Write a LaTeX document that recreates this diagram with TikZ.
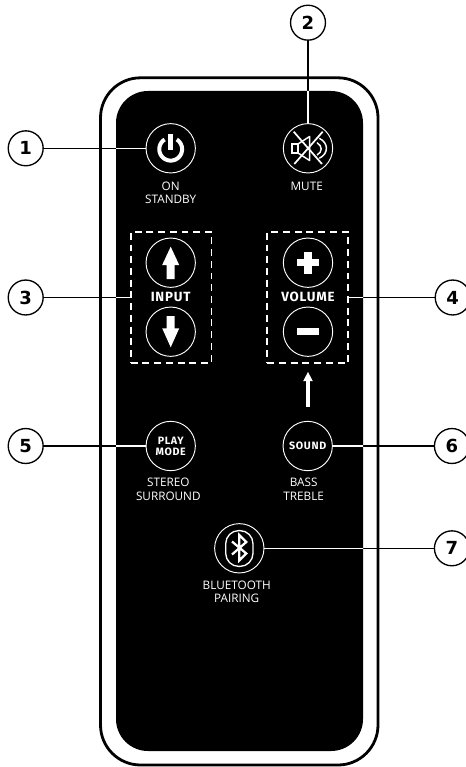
\documentclass[tikz,border=0pt]{standalone}
\usepackage{fontspec}
\setmainfont{Open Sans}
\newfontfamily\dinfont[LetterSpace=6]{Fira Sans}
\newfontfamily\numfont{DejaVu Sans}
\usetikzlibrary{arrows.meta}
\tikzset{
  btn/.style={circle,draw=white,line width=0.7pt,minimum size=37pt,inner sep=0pt,outer sep=0pt,text=white},
  numcirc/.style={circle,draw=black,fill=white,line width=1pt,minimum size=26.2pt,inner sep=0pt,outer sep=0pt,font=\numfont\bfseries\fontsize{13.5}{13.5}\selectfont},
  dashbox/.style={draw=white,dash pattern=on 5.2pt off 3.6pt,line width=1.15pt,minimum width=60.4pt,minimum height=98.5pt,inner sep=0pt,outer sep=0pt},
  lab/.style={text=white,align=center,inner sep=0pt,font=\fontsize{8.8}{10}\selectfont},
  biglab/.style={text=white,align=center,inner sep=0pt,font=\dinfont\bfseries\fontsize{10}{10}\selectfont},
  btnlab/.style={text=white,align=center,inner sep=0pt,font=\dinfont\bfseries\fontsize{8}{8.2}\selectfont},
  conn/.style={draw=black,line width=0.95pt},
  connw/.style={draw=white,line width=0.85pt},
  glyph/.style={fill=white,draw=none},
  glyphline/.style={draw=white,line width=1.1pt},
}
\begin{document}
\begin{tikzpicture}[x=0.75pt,y=-0.75pt]
\useasboundingbox (0,0) rectangle (465,767);
\fill[white] (0,0) rectangle (465,767);
% named anchors
\coordinate (pTL) at (116,91);
\coordinate (pBR) at (363,751);
% body outline
\draw[black,line width=2.1pt,rounded corners=30pt] (100.5,77.8) rectangle (378,765);
% number circles and targets (positions only; drawn afterwards)
\coordinate (p1) at (25.7,148.3);
\coordinate (p2) at (308,22.7);
\coordinate (p3) at (25.7,297.5);
\coordinate (p4) at (452.7,297.5);
\coordinate (p5) at (25.7,446);
\coordinate (p6) at (451.9,446);
\coordinate (p7) at (451.9,548.3);
\path[fill=black,rounded corners=24pt] (pTL) rectangle (pBR);
% buttons
\node[btn] (power) at (170.7,148.3) {};
\node[btn] (mute) at (308,148.3) {};
\node[btn] (up) at (170.7,262.7) {};
\node[btn] (down) at (170.7,331.7) {};
\node[btn] (plus) at (308,262.7) {};
\node[btn] (minus) at (308,331.7) {};
\node[btn,btnlab] (play) at (170.7,446) {PLAY\\MODE};
\node[btn,btnlab] (sound) at (307.7,446) {SOUND};
\node[btn] (bt) at (239.3,548.3) {};
% groups
\node[dashbox] (inputbox) at (171,297.5) {};
\node[dashbox] (volbox) at (307.5,297.5) {};
% labels
\node[lab] (lon) at (170.7,193) {ON\\STANDBY};
\node[lab] (lmute) at (306.7,186) {MUTE};
\node[biglab] (linput) at (170.7,297.3) {INPUT};
\node[biglab] (lvol) at (308,297.3) {VOLUME};
\node[lab] (lst) at (168.3,489.2) {STEREO\\SURROUND};
\node[lab] (lbass) at (303.7,489.2) {BASS\\TREBLE};
\node[lab] (lbt) at (236.7,591.7) {BLUETOOTH\\PAIRING};
% number nodes
\node[numcirc] (n1) at (p1) {1};
\node[numcirc] (n2) at (p2) {2};
\node[numcirc] (n3) at (p3) {3};
\node[numcirc] (n4) at (p4) {4};
\node[numcirc] (n5) at (p5) {5};
\node[numcirc] (n6) at (p6) {6};
\node[numcirc] (n7) at (p7) {7};
% connectors: black on the white casing, white over the black panel
\foreach \a/\b in {n1/power,n2/mute,n3/inputbox,n4/volbox,n5/play,n6/sound,n7/bt}{
  \draw[conn] (\a) -- (\b);
}
\begin{scope}
  \clip[rounded corners=24pt] (pTL) rectangle (pBR);
  \foreach \a/\b in {n1/power,n2/mute,n3/inputbox,n4/volbox,n5/play,n6/sound,n7/bt}{
    \draw[connw] (\a) -- (\b);
  }
\end{scope}
% white arrow from SOUND towards VOLUME
\coordinate (atail) at (308,406.7);
\coordinate (atip) at (308,371.7);
\draw[white,line width=3.2pt,-{Triangle[length=7pt,width=6.6pt]}] (atail) -- (atip);
% power icon
\begin{scope}[shift={(170.7,149.2)}]
  \draw[draw=white,line width=3pt] plot[domain=-58:238,samples=60] ({11.4*cos(\x)},{11.4*sin(\x)});
  \fill[glyph] (-2.7,-15) rectangle (2.7,1);
\end{scope}
% mute icon
\draw[glyphline] (298,144) -- (292,144) -- (292,153) -- (298,153) -- cycle;
\draw[glyphline,line join=round] (298,144) -- (309.6,136.5) -- (309.6,160.5) -- (298,153);
\draw[glyphline,line width=1.3pt] (293.7,131.7) -- (322,164);
\draw[glyphline,line width=1.3pt] (322.7,131.7) -- (294.3,164);
\draw[glyphline] (317,142.7) .. controls (322.6,146) and (322.6,152) .. (317,155);
\draw[glyphline] (319.3,138.3) .. controls (328.8,143) and (328.8,153.6) .. (319.3,158.3);
% arrows, plus, minus
\fill[glyph] (170.7,246.7) -- (179.2,265) -- (174.7,265) -- (174.7,279) -- (166.7,279) -- (166.7,265) -- (162.2,265) -- cycle;
\fill[glyph] (170.7,347.3) -- (179.2,328.3) -- (174.7,328.3) -- (174.7,316) -- (166.7,316) -- (166.7,328.3) -- (162.2,328.3) -- cycle;
\fill[glyph] (297,259) rectangle (319,266.4);
\fill[glyph] (304.3,251.7) rectangle (311.7,273.7);
\fill[glyph] (297,328) rectangle (319,335.4);
% bluetooth icon
\draw[glyphline,line width=1pt,rounded corners=9.8pt] (225.7,530.6) rectangle (253,566.4);
\draw[draw=white,line width=1.7pt,line join=miter] (232,541.5) -- (246.3,553.5) -- (239.3,560.5) -- (239.3,535) -- (246.3,542) -- (232,554.5);
\end{tikzpicture}
\end{document}
